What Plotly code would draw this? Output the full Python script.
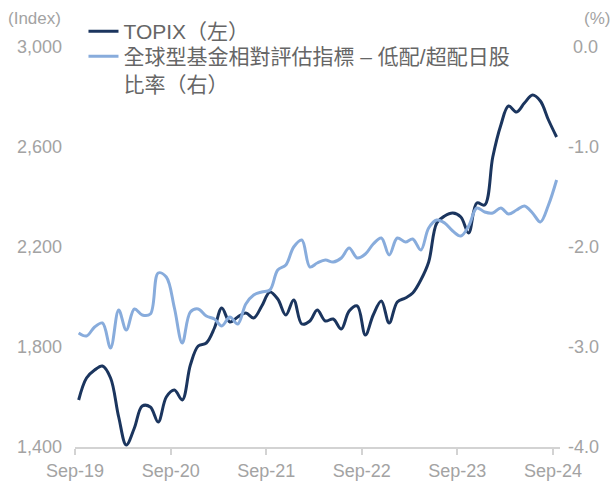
import pandas as pd
import plotly.graph_objects as go

# Monthly observations, Sep-2019 .. Sep-2024 (mid-month)
months = (pd.date_range("2019-09-01", periods=61, freq="MS") + pd.Timedelta(days=14))

topix = [1588, 1676, 1708, 1724, 1676, 1520, 1408, 1476, 1564, 1560,
         1500, 1600, 1628, 1588, 1728, 1804, 1816, 1876, 1956, 1900,
         1920, 1936, 1916, 1964, 2020, 1992, 1928, 1988, 1892, 1904,
         1948, 1904, 1912, 1872, 1944, 1964, 1848, 1928, 1984, 1896,
         1980, 1996, 2016, 2068, 2140, 2296, 2324, 2336, 2320, 2256,
         2376, 2368, 2560, 2688, 2764, 2740, 2776, 2808, 2784, 2708,
         2640]

relative = [-2.86, -2.89, -2.80, -2.76, -3.01, -2.63, -2.83, -2.62, -2.68, -2.67,
            -2.26, -2.30, -2.61, -2.96, -2.65, -2.62, -2.69, -2.72, -2.79, -2.70,
            -2.77, -2.57, -2.48, -2.45, -2.43, -2.23, -2.18, -2.00, -1.93, -2.20,
            -2.16, -2.13, -2.15, -2.11, -2.01, -2.11, -2.07, -1.97, -1.91, -2.08,
            -1.91, -1.95, -1.92, -2.03, -1.81, -1.73, -1.76, -1.84, -1.89, -1.79,
            -1.61, -1.65, -1.66, -1.61, -1.67, -1.63, -1.59, -1.66, -1.75, -1.58,
            -1.33]

x_tickvals = ["2019-09-01", "2020-09-01", "2021-09-01", "2022-09-01", "2023-09-01", "2024-09-01"]
x_ticktext = ["Sep-19", "Sep-20", "Sep-21", "Sep-22", "Sep-23", "Sep-24"]
left_ticks = [1400, 1800, 2200, 2600, 3000]
left_text = ["1,400", "1,800", "2,200", "2,600", "3,000"]
right_ticks = [-4, -3, -2, -1, 0]
right_text = ["-4.0", "-3.0", "-2.0", "-1.0", "\u00a00.0"]

name_topix = "TOPIX（左）"
name_rel = "全球型基金相對評估指標 – 低配/超配日股<br>比率（右）"

FONT = "Liberation Sans, Arial, Noto Sans CJK TC, sans-serif"
TICK_COLOR = "#a3a3a3"
LEGEND_FONT = dict(family=FONT, size=21, color="#666666")

fig = go.Figure()
fig.add_trace(go.Scatter(x=months, y=topix, name=name_topix, mode="lines",
                         line=dict(color="#1b355e", width=3, shape="spline", smoothing=1.0),
                         yaxis="y", legend="legend"))
fig.add_trace(go.Scatter(x=months, y=relative, name=name_rel, mode="lines",
                         line=dict(color="#88acdc", width=3, shape="spline", smoothing=1.0),
                         yaxis="y2", legend="legend2"))

fig.update_layout(
    width=616, height=481,
    margin=dict(l=75, r=56, t=47, b=34, autoexpand=False),
    paper_bgcolor="white", plot_bgcolor="white",
    font=dict(family=FONT, size=18, color=TICK_COLOR),
    showlegend=True,
    legend=dict(x=0.0175, y=1.09, xanchor="left", yanchor="top",
                font=LEGEND_FONT, bgcolor="rgba(0,0,0,0)", valign="top",
                itemwidth=30),
    legend2=dict(x=0.0175, y=1.0275, xanchor="left", yanchor="top",
                 font=LEGEND_FONT, bgcolor="rgba(0,0,0,0)", valign="top",
                 itemwidth=30),
    xaxis=dict(type="date", range=["2019-09-01", "2024-09-28"],
               tickvals=x_tickvals, ticktext=x_ticktext,
               showgrid=False, zeroline=False,
               showline=True, linecolor="#d3d3d3", linewidth=2,
               ticks="outside", ticklen=6, tickwidth=2, tickcolor="#d3d3d3",
               tickfont=dict(size=18, color=TICK_COLOR)),
    yaxis=dict(range=[1400, 3000], tickvals=left_ticks, ticktext=left_text,
               showgrid=False, zeroline=False, showline=False,
               ticks="", ticklabelstandoff=12,
               tickfont=dict(size=18, color=TICK_COLOR)),
    yaxis2=dict(range=[-4, 0], tickvals=right_ticks, ticktext=right_text,
                overlaying="y", side="right",
                showgrid=False, zeroline=False, showline=False,
                ticks="", ticklabelstandoff=7,
                tickfont=dict(size=18, color=TICK_COLOR)),
    annotations=[
        dict(text="(Index)", xref="paper", yref="paper", x=-0.025, y=1.0,
             xanchor="right", yanchor="bottom", yshift=17, showarrow=False,
             font=dict(size=17, color=TICK_COLOR)),
        dict(text="(%)", xref="paper", yref="paper", x=1.107, y=1.0,
             xanchor="right", yanchor="bottom", yshift=17, showarrow=False,
             font=dict(size=17, color=TICK_COLOR)),
    ],
)

fig.write_html("out.html",
               config={"displayModeBar": False},
               post_script="document.body.style.margin='0';document.body.style.overflow='hidden';")
